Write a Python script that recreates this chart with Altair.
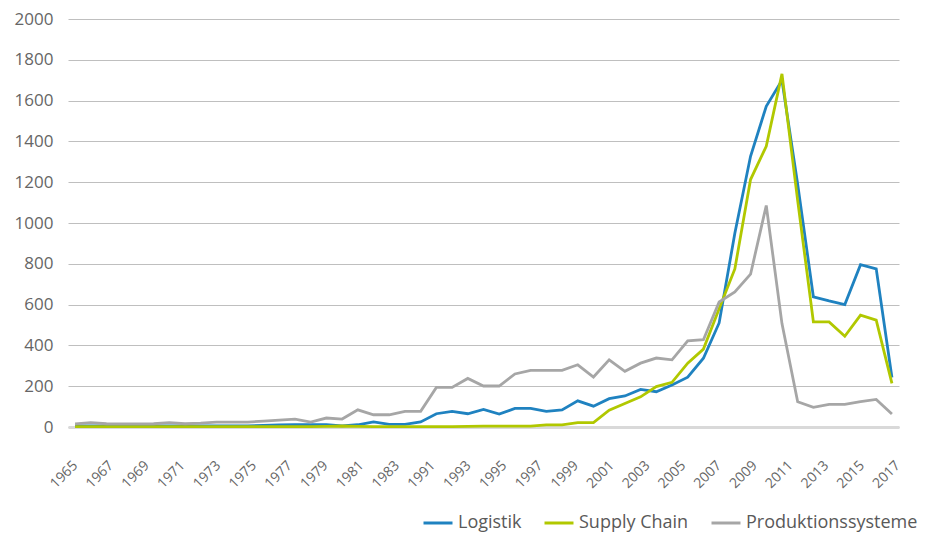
import altair as alt
import pandas as pd

years = [1965, 1966, 1967, 1968, 1969, 1970, 1971, 1972, 1973, 1974,
         1975, 1976, 1977, 1978, 1979, 1980, 1981, 1982, 1983, 1984,
         1985, 1986, 1987, 1988, 1989, 1990, 1991, 1992, 1993, 1994,
         1995, 1996, 1997, 1998, 1999, 2000, 2001, 2002, 2003, 2004,
         2005, 2006, 2007, 2008, 2009, 2010, 2011, 2012, 2013, 2014,
         2015, 2016, 2017]

logistik = [5, 5, 5, 5, 5, 5, 5, 5, 5, 5,
            5, 5, 8, 10, 11, 11, 11, 6, 11, 25,
            13, 13, 25, 65, 77, 65, 86, 63, 91, 91,
            77, 84, 128, 102, 139, 152, 184, 173, 206, 244,
            337, 510, 950, 1327, 1572, 1700, 1190, 638, 618, 600,
            796, 775, 243]

supply_chain = [2, 2, 2, 2, 2, 2, 2, 2, 2, 2,
                2, 2, 2, 2, 2, 2, 3, 5, 3, 2,
                2, 2, 2, 2, 2, 3, 4, 4, 4, 4,
                10, 10, 21, 21, 82, 115, 148, 198, 219, 313,
                382, 580, 775, 1213, 1376, 1731, 1110, 515, 515, 445,
                548, 524, 214]

produktion = [15, 21, 16, 15, 15, 16, 21, 16, 19, 24,
              24, 24, 29, 34, 39, 24, 44, 39, 84, 60,
              60, 77, 77, 194, 194, 238, 201, 201, 260, 278,
              278, 278, 305, 245, 329, 273, 313, 338, 329, 422,
              428, 613, 662, 749, 1086, 507, 124, 96, 111, 111,
              124, 135, 64]

tick_labels = ["1965", "1967", "1969", "1971", "1973", "1975", "1977", "1979",
               "1981", "1983", "1991", "1993", "1995", "1997", "1999", "2001",
               "2003", "2005", "2007", "2009", "2011", "2013", "2015", "2017"]

series_names = ["Logistik", "Supply Chain", "Produktionssysteme"]
series_colors = ["#1f82c0", "#b1c800", "#a6a6a6"]

rows = []
for name, vals in zip(series_names, [logistik, supply_chain, produktion]):
    for y, v in zip(years, vals):
        rows.append({"Jahr": y, "Wert": v, "Reihe": name})
df = pd.DataFrame(rows)

step = 2.2765
tick_vals = [1965 + k * step for k in range(len(tick_labels))]
label_arr = "[" + ",".join("'" + t + "'" for t in tick_labels) + "]"
label_expr = label_arr + "[round((datum.value - 1965) / " + str(step) + ")]"

font = "Open Sans"
txt = "#666666"

chart = alt.Chart(df).mark_line(strokeWidth=2.8, strokeJoin="miter").encode(
    x=alt.X("Jahr:Q",
            scale=alt.Scale(domain=[1964.55, 2017.45], nice=False, zero=False),
            axis=alt.Axis(values=tick_vals, labelExpr=label_expr, title=None,
                          grid=False, ticks=False, labelAngle=315,
                          labelAlign="right", labelBaseline="middle",
                          labelPadding=36, labelFontSize=14, labelColor=txt,
                          labelFont=font, domainColor="#d9d9d9", domainWidth=3,
                          labelOverlap=False, labelFlush=False, labelBound=False)),
    y=alt.Y("Wert:Q",
            scale=alt.Scale(domain=[0, 2000], nice=False),
            axis=alt.Axis(values=list(range(0, 2001, 200)), title=None, format="d",
                          ticks=False, domain=False, gridColor="#bfbfbf",
                          gridWidth=1, labelPadding=15, labelFontSize=17,
                          labelColor=txt, labelFont=font)),
    color=alt.Color("Reihe:N",
                    scale=alt.Scale(domain=series_names, range=series_colors),
                    legend=alt.Legend(title=None, orient="none", direction="horizontal",
                                      legendX=354, legendY=488,
                                      symbolType="stroke", symbolSize=841,
                                      symbolStrokeWidth=3, labelFontSize=18,
                                      labelFont=font, labelColor="#595959",
                                      labelOffset=4, columnPadding=16,
                                      labelLimit=400)),
    order=alt.Order("Jahr:Q"),
).properties(
    width=831, height=408,
    padding={"left": 60, "top": 11, "right": 20, "bottom": 108},
    autosize=alt.AutoSizeParams(type="none"),
).configure_view(stroke=None)

chart.save("out.html", embed_options={"renderer": "svg", "actions": False})
